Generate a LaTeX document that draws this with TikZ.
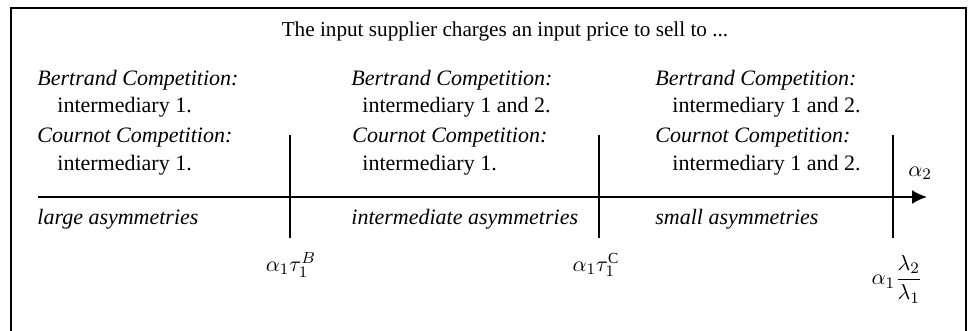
\documentclass[tikz,border=0pt]{standalone}
\usepackage{fontspec}
\setmainfont{Liberation Serif}
\usetikzlibrary{arrows.meta}
\begin{document}
\begin{tikzpicture}[x=0.5pt,y=-0.5pt,
  txt/.style={anchor=base west,inner sep=0pt,font=\fontsize{11}{13}\selectfont},
  lbl/.style={inner sep=0pt,font=\fontsize{11}{13}\selectfont},
  tick/.style={line width=0.8pt},
  frame/.style={line width=1pt}]
\useasboundingbox (0,0) rectangle (970,331);
\clip (0,0) rectangle (970,331);
% frame
\draw[frame] (11,345) -- (11,8) -- (966,8) -- (966,345);
% title
\node[lbl,anchor=base,font=\fontsize{10.6}{13}\selectfont] (title) at (505,37) {The input supplier charges an input price to sell to ...};
% column 1
\node[txt] (b1) at (37,86) {\textit{Bertrand Competition:}};
\node[txt] (b1t) at (57,113) {intermediary 1.};
\node[txt] (c1) at (37,143) {\textit{Cournot Competition:}};
\node[txt] (c1t) at (57,171) {intermediary 1.};
\node[txt] (r1) at (37,225) {\textit{large asymmetries}};
% column 2
\node[txt] (b2) at (351,86) {\textit{Bertrand Competition:}};
\node[txt] (b2t) at (362,113) {intermediary 1 and 2.};
\node[txt] (c2) at (352,143) {\textit{Cournot Competition:}};
\node[txt] (c2t) at (362,171) {intermediary 1.};
\node[txt] (r2) at (351,225) {\textit{intermediate asymmetries}};
% column 3
\node[txt] (b3) at (655,86) {\textit{Bertrand Competition:}};
\node[txt] (b3t) at (672,113) {intermediary 1 and 2.};
\node[txt] (c3) at (655,143) {\textit{Cournot Competition:}};
\node[txt] (c3t) at (672,171) {intermediary 1 and 2.};
\node[txt] (r3) at (655,225) {\textit{small asymmetries}};
% axis
\coordinate (axs) at (38,197);
\coordinate (axe) at (927,197);
\draw[line width=1pt,-{Latex[length=7.5pt,width=7pt]}] (axs) -- (axe);
\node[lbl] (a2) at (920,173) {$\alpha_2$};
% ticks
\coordinate (t1a) at (290,135); \coordinate (t1b) at (290,238);
\coordinate (t2a) at (599,135); \coordinate (t2b) at (599,238);
\coordinate (t3a) at (893,135); \coordinate (t3b) at (893,238);
\draw[tick] (t1a) -- (t1b);
\draw[tick] (t2a) -- (t2b);
\draw[tick] (t3a) -- (t3b);
% tick labels
\node[lbl] (l1) at (291,265) {$\alpha_1\tau_1^{B}$};
\node[lbl] (l2) at (596,265) {$\alpha_1\tau_1^{\mathrm{C}}$};
\node[lbl] (l3) at (897,279) {$\alpha_1\displaystyle\frac{\lambda_2}{\lambda_1}$};
\end{tikzpicture}
\end{document}
